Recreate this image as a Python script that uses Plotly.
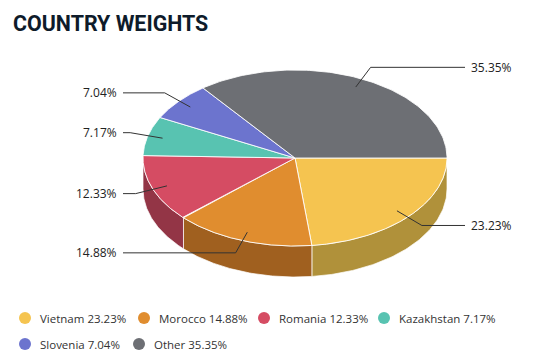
import numpy as np
import plotly.graph_objects as go

countries = ["Vietnam", "Morocco", "Romania", "Kazakhstan", "Slovenia", "Other"]
weights = [23.23, 14.88, 12.33, 7.17, 7.04, 35.35]
top_colors = ["#F5C450", "#E08D2F", "#D54C63", "#58C3B1", "#6C74CE", "#6D6F74"]
side_colors = ["#B0913A", "#A0601F", "#933546", "#3E8A7E", "#4B5190", "#4D4F52"]

# layout constants (pixels)
CX, CY, RX, RY, DEPTH = 295, 158, 152, 88, 31
LEGEND_X = [25, 144, 264, 384, 25, 139]
LEGEND_Y = [318, 318, 318, 318, 344, 344]

fig = go.Figure()
n = len(weights)
total = sum(weights)
fr = np.array(weights) / total * 360
starts = np.concatenate([[0], np.cumsum(fr)[:-1]])
ends = starts + fr


def pt(a, k=1.0, dy=0.0):
    r = np.radians(a)
    return CX + k * RX * np.cos(r), CY + k * RY * np.sin(r) + dy


# side walls (front half only)
for i in range(n):
    a0, a1 = starts[i], min(ends[i], 180)
    if a0 >= 180:
        continue
    angs = np.linspace(a0, a1, 80)
    xt, yt = pt(angs)
    xb, yb = pt(angs[::-1], dy=DEPTH)
    x = np.concatenate([xt, xb, xt[:1]])
    y = np.concatenate([yt, yb, yt[:1]])
    fig.add_trace(go.Scatter(x=x, y=y, fill="toself", fillcolor=side_colors[i],
                             mode="lines", line=dict(color="rgba(255,255,255,0.7)", width=1),
                             showlegend=False, hoverinfo="skip"))

# top faces
for i in range(n):
    angs = np.linspace(starts[i], ends[i], 120)
    xa, ya = pt(angs)
    x = np.concatenate([[CX], xa, [CX]])
    y = np.concatenate([[CY], ya, [CY]])
    fig.add_trace(go.Scatter(x=x, y=y, fill="toself", fillcolor=top_colors[i],
                             mode="lines", line=dict(color="rgba(255,255,255,0.85)", width=1),
                             showlegend=False, hoverinfo="text",
                             text=f"{countries[i]} {weights[i]:.2f}%"))

# leader lines and labels
for i in range(n):
    mid = (starts[i] + ends[i]) / 2
    x0, y0 = pt(mid, 0.9)
    ex, _ = pt(mid, 1.12)
    _, ey = pt(mid, 1.15)
    right = np.cos(np.radians(mid)) >= 0
    lx = CX + RX + 18 if right else CX - RX - 20
    fig.add_trace(go.Scatter(x=[x0, ex, lx], y=[y0, ey, ey], mode="lines",
                             line=dict(color="#333333", width=1),
                             showlegend=False, hoverinfo="skip"))
    fig.add_annotation(x=lx + (4 if right else -4), y=ey, text=f"{weights[i]:.2f}%",
                       showarrow=False, xanchor="left" if right else "right",
                       yanchor="middle",
                       font=dict(family="Open Sans", size=12, color="#222222"))

# legend (circles + labels)
fig.add_trace(go.Scatter(x=LEGEND_X, y=LEGEND_Y, mode="markers",
                         marker=dict(size=12, color=top_colors, symbol="circle"),
                         showlegend=False, hoverinfo="skip"))
for i in range(n):
    fig.add_annotation(x=LEGEND_X[i] + 13, y=LEGEND_Y[i],
                       text=f"{countries[i]} {weights[i]:.2f}%",
                       showarrow=False, xanchor="left", yanchor="middle",
                       font=dict(family="Open Sans", size=11.5, color="#333333"))

fig.update_layout(
    width=540, height=360,
    margin=dict(l=0, r=0, t=0, b=0),
    paper_bgcolor="white", plot_bgcolor="white",
    showlegend=False,
    xaxis=dict(range=[0, 540], visible=False, fixedrange=True),
    yaxis=dict(range=[360, 0], visible=False, fixedrange=True),
    title=dict(text="<b>COUNTRY WEIGHTS</b>", x=13 / 540, xanchor="left",
               y=1 - 24 / 360, yanchor="middle",
               font=dict(family="Roboto", size=21.4, color="#0E1B2A")),
)

fig.write_html("out.html", post_script="document.body.style.margin='0';",
               config={"displayModeBar": False})
